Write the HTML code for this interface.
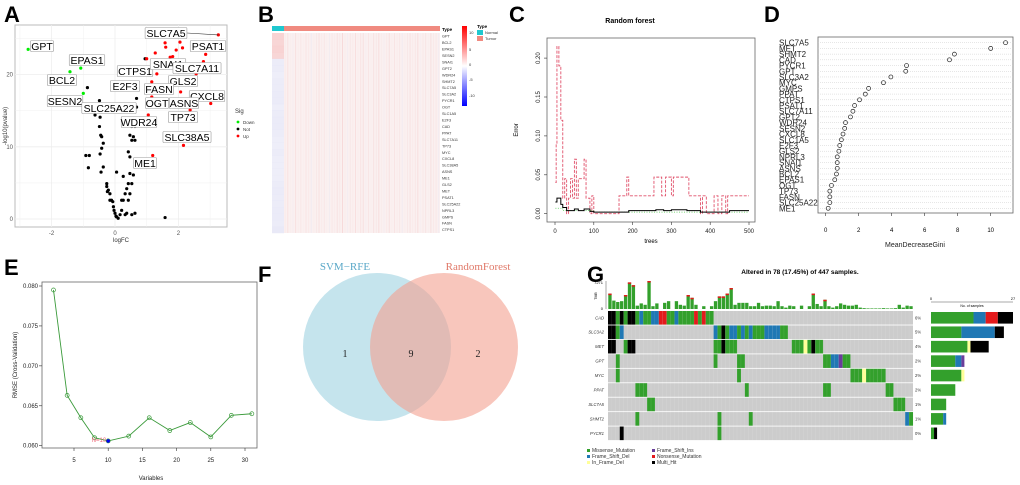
<!DOCTYPE html>
<html><head><meta charset="utf-8"><style>
html,body{margin:0;padding:0;background:#fff;width:1020px;height:485px;overflow:hidden}
svg{display:block;font-family:"Liberation Sans",sans-serif}
</style></head><body>
<svg id="fig" width="1020" height="485" viewBox="0 0 1020 485" xmlns="http://www.w3.org/2000/svg">
<g font-weight="bold" font-size="22" fill="#000">
<text x="4" y="22">A</text>
<text x="258" y="22">B</text>
<text x="509" y="22">C</text>
<text x="764" y="22">D</text>
<text x="4" y="275">E</text>
<text x="258" y="282">F</text>
<text x="587" y="282">G</text>
</g>
<g id="pA"></g><g id="pB"></g><g id="pC"></g><g id="pD"></g><g id="pE"></g><g id="pF"></g><g id="pG"></g>
</svg>
<script>
const NS='http://www.w3.org/2000/svg';
function mk(parent,tag,attrs,txt){const e=document.createElementNS(NS,tag);for(const k in attrs)e.setAttribute(k,attrs[k]);if(txt!==undefined)e.textContent=txt;parent.appendChild(e);return e;}

// ===== Panel A data =====
const aUpX=[3.26,2.86,1.58,2.05,2.13,1.6,1.93,1.27,1.0,1.74,1.82,1.21,1.32,2.56,2.79,1.93,1.76,1.16,1.1,2.07,1.16,3.02,2.37,1.05,2.16,1.19];
const aUpY=[25.5,22.8,24.4,24.5,23.7,23.8,23.4,23.0,22.2,22.4,22.5,21.5,20.1,20.1,21.8,20.6,19.6,19.0,18.4,17.6,16.9,16.0,15.1,14.4,10.2,8.8];
const aDownX=[-2.74,-1.08,-1.42,-1.0];
const aDownY=[23.5,20.9,20.4,17.4];
const aNotX=[.95,-.87,-.49,.68,-.63,-.47,.68,-.49,-.45,-.42,-.37,-.42,-.47,-.92,-.81,-.84,-.37,-.44,-.26,-.21,-.16,-.11,-.05,0,.05,.1,.16,.21,.26,.32,.37,.42,.47,.53,.58,.47,.42,.53,.58,.63,.47,.63,.53,.05,.26,.63,.32,1.58,-.16,-.07,-.03,.03,-.26,-.24,.21,.37,.53,.42,.47];
const aNotY=[22.2,18.2,16.4,16.7,14.4,14.1,15.5,12.8,11.6,11.4,10.5,9.8,9.0,8.8,8.8,7.1,7.2,6.5,4.9,4.0,3.5,2.6,1.7,.8,.3,.1,.6,1.2,2.6,3.5,4.2,4.9,6.3,4.9,6.1,8.6,9.3,10.9,11.4,10.9,11.6,12.8,12.8,6.5,5.9,.8,.6,.2,2.6,2.4,1.2,.4,4.5,3.8,2.6,.8,.6,2.6,3.5];
const aLabels=['SLC7A5','PSAT1','GPT','EPAS1','CTPS1','SNAI1','SLC7A11','BCL2','GLS2','E2F3','FASN','CXCL8','SESN2','OGT','ASNS','SLC25A22','TP73','WDR24','SLC38A5','ME1'];
const aXTicks=[-2,0,2];
const aYTicks=[0,10,20];
(function(){
 const g=document.getElementById('pA');
 const X=v=>115+31.7*v, Y=v=>219-7.22*v;
 const bg=mk(g,'rect',{x:15,y:25,width:212,height:202,fill:'#fff',stroke:'#bbb','stroke-width':1});
 
 
 for(let v=-3;v<=3;v+=1){mk(g,'line',{x1:X(v),x2:X(v),y1:25,y2:227,stroke:'#eee','stroke-width':v%2===0?0.8:0.4});}
 for(let v=0;v<=25;v+=5){mk(g,'line',{x1:15,x2:227,y1:Y(v),y2:Y(v),stroke:'#eee','stroke-width':v%10===0?0.8:0.4});}
 aXTicks.forEach(v=>{const t=mk(g,'text',{x:X(v),y:235,'font-size':6,fill:'#555','text-anchor':'middle'},String(v));});
 aYTicks.forEach(v=>{const t=mk(g,'text',{x:13,y:Y(v)+2,'font-size':6,fill:'#555','text-anchor':'end'},String(v));});
 const xl=mk(g,'text',{x:121,y:242,'font-size':6,fill:'#333','text-anchor':'middle'},'logFC');
 const yl=mk(g,'text',{x:0,y:0,'font-size':6,fill:'#333','text-anchor':'middle',transform:'translate(7,126) rotate(-90)'},'-log10(pvalue)');
 aNotX.forEach((v,i)=>{const c=mk(g,'circle',{cx:X(v),cy:Y(aNotY[i]),r:1.6,fill:'#000'});});
 aUpX.forEach((v,i)=>{const c=mk(g,'circle',{cx:X(v),cy:Y(aUpY[i]),r:1.6,fill:'#ff0000'});});
 aDownX.forEach((v,i)=>{const c=mk(g,'circle',{cx:X(v),cy:Y(aDownY[i]),r:1.6,fill:'#00ee00'});});
 mk(g,'line',{x1:187,y1:33,x2:X(3.26),y2:Y(25.5),stroke:'#333','stroke-width':0.6});
 const pos=[[166,33],[208,46],[42,46],[87,60],[135,71],[168,64],[197,68],[62,80],[183,81],[125,86],[159,89],[207,96],[65,101],[157,103],[184,103],[109,108],[183,117],[139,122],[187,137],[145,163]];
 aLabels.forEach((s,i)=>{const [cx,cy]=pos[i];const w=s.length*6.3+4;
  const r=mk(g,'rect',{x:cx-w/2,y:cy-5.5,width:w,height:11,fill:'#fff',stroke:'#999','stroke-width':0.6,rx:1});
  const t=mk(g,'text',{x:cx,y:cy+3.8,'font-size':10.5,fill:'#000','text-anchor':'middle'},s);});
 const lt=mk(g,'text',{x:235,y:113,'font-size':6,fill:'#333'},'Sig');
 [['Down','#00ee00'],['Not','#000'],['Up','#f00']].forEach((d,i)=>{mk(g,'circle',{cx:238,cy:122+i*7,r:1.4,fill:d[1]});const t=mk(g,'text',{x:243,y:124+i*7,'font-size':4.5,fill:'#333'},d[0]);});
})();

// ===== Panel B data =====
const bGenes=['GPT','BCL2','EPAS1','SESN2','SNAI1','GPT2','WDR24','SHMT2','SLC7A5','SLC3A2','PYCR1','OGT','SLC1A5','E2F3','CAD','PPAT','SLC7A11','TP73','MYC','CXCL8','SLC38A5','ASNS','ME1','GLS2','MET','PSAT1','SLC25A22','NPRL3','GMPS','FASN','CTPS1'];
const bNormal=[0.3,0.25,0.3,0.25,-0.1,-0.1,-0.05,-0.1,-0.1,-0.15,-0.15,-0.05,-0.1,-0.15,-0.15,-0.1,-0.05,-0.05,-0.1,-0.05,-0.05,-0.05,-0.05,-0.1,-0.15,-0.1,-0.1,-0.15,-0.15,-0.1,-0.2];
const bColNoise=[0.2,0.5,0.1,0.3,0.6,0.15,0.35,0.05,0.45,0.25,0.7,0.1,0.3,0.55,0.2,0.4,0.05,0.6,0.35,0.15,0.5,0.25,0.8,0.1,0.45,0.3,0.2,0.65,0.1,0.4,0.55,0.2,0.35,0.05,0.5,0.3,0.7,0.15,0.4,0.25,0.6,0.1,0.45,0.2,0.35,0.55,0.1,0.3,0.5,0.2,0.4,0.65,0.15,0.3,0.45,0.1,0.6,0.25,0.35,0.5];
(function(){
 const g=document.getElementById('pB');
 const x0=272,x1=440,y0=33,y1=233,nx=284;
 const rh=(y1-y0)/bGenes.length;
 mk(g,'rect',{x:x0,y:26,width:nx-x0,height:5,fill:'#1fc8cf'});
 mk(g,'rect',{x:nx,y:26,width:x1-nx,height:5,fill:'#f08a80'});
 const base=mk(g,'rect',{x:nx,y:y0,width:x1-nx,height:y1-y0,fill:'#faf0f0'});
 const cw=(x1-nx)/bColNoise.length;
 bColNoise.forEach((v,i)=>{const r=mk(g,'rect',{x:nx+i*cw+cw*0.3,y:y0,width:cw*0.35,height:y1-y0,fill:i%7===3?'#dcdcf4':'#f2b0b0',opacity:v*0.45});});
 bGenes.forEach((s,i)=>{const v=bNormal[i];
  const c=mk(g,'rect',{x:x0,y:y0+i*rh,width:nx-x0,height:rh+0.2,fill:v>0?'#f6c8c8':'#e0e0f4',opacity:0.5+Math.abs(v)});
  const t=mk(g,'text',{x:442,y:y0+i*rh+rh/2+1.4,'font-size':3.8,fill:'#333'},s);});
 mk(g,'text',{x:442,y:31,'font-size':4.5,'font-weight':'bold',fill:'#000'},'Type');
 const defs=mk(g,'defs',{});const lg=mk(defs,'linearGradient',{id:'bgrad',x1:0,y1:0,x2:0,y2:1});
 mk(lg,'stop',{offset:'0','stop-color':'#ff0000'});mk(lg,'stop',{offset:'0.5','stop-color':'#ffffff'});mk(lg,'stop',{offset:'1','stop-color':'#0000ff'});
 const cb=mk(g,'rect',{x:462,y:26,width:5,height:80,fill:'url(#bgrad)'});
 [['10',34],['5',51],['0',66],['-5',81],['-10',97]].forEach(d=>mk(g,'text',{x:469,y:d[1],'font-size':4,fill:'#333'},d[0]));
 mk(g,'text',{x:477,y:28,'font-size':4.5,'font-weight':'bold',fill:'#000'},'Type');
 mk(g,'rect',{x:477,y:30,width:6,height:5,fill:'#1fc8cf'});mk(g,'rect',{x:477,y:36,width:6,height:5,fill:'#f08a80'});
 mk(g,'text',{x:485,y:34,'font-size':4,fill:'#333'},'Normal');mk(g,'text',{x:485,y:40,'font-size':4,fill:'#333'},'Tumor');
})();

// ===== Panel C data =====
const cRedT=[1,3,5,10,15,20,25,30,35,40,45,50,55,60,70,75,80,90,95,100,160,165,185,190,250,255,275,285,300,305,345,370,375,380,390,410,420,430,440,445,500];
const cRedE=[0.04,0.09,0.215,0.19,0.12,0.02,0.045,0.0,0.02,0.045,0.02,0.07,0.02,0.045,0.045,0.07,0.02,0.0,0.023,0.0,0.0,0.023,0.047,0.023,0.023,0.047,0.023,0.047,0.023,0.047,0.023,0.023,0.0,0.023,0.0,0.023,0.0,0.023,0.0,0.023,0.023];
const cBlkT=[1,5,10,15,20,30,50,60,75,90,100,180,190,250,260,280,300,340,370,375,440,450,500];
const cBlkE=[0.015,0.02,0.02,0.012,0.008,0.004,0.006,0.004,0.006,0.003,0.002,0.002,0.004,0.004,0.005,0.004,0.005,0.004,0.004,0.002,0.002,0.004,0.004];
const cGrnT=[1,20,100,500];
const cGrnE=[0.007,0.004,0.002,0.002];
const cXTicks=[0,100,200,300,400,500];
const cYTicks=[0,0.05,0.10,0.15,0.20];
(function(){
 const g=document.getElementById('pC');
 const X=t=>555+t*0.388, Y=e=>213.7-e*778;
 const box=mk(g,'rect',{x:547,y:38,width:208,height:184,fill:'none',stroke:'#666','stroke-width':0.8});
 const tt=mk(g,'text',{x:630,y:23,'font-size':7,'font-weight':'bold','text-anchor':'middle'},'Random forest');
 cXTicks.forEach(v=>{mk(g,'line',{x1:X(v),x2:X(v),y1:222,y2:225,stroke:'#333','stroke-width':0.6});const t=mk(g,'text',{x:X(v),y:233,'font-size':6,'text-anchor':'middle',fill:'#222'},String(v));});
 cYTicks.forEach(v=>{mk(g,'line',{x1:544,x2:547,y1:Y(v),y2:Y(v),stroke:'#333','stroke-width':0.6});const t=mk(g,'text',{x:0,y:0,'font-size':6,'text-anchor':'middle',fill:'#222',transform:`translate(540,${Y(v)}) rotate(-90)`},v.toFixed(2));});
 const xl=mk(g,'text',{x:651,y:243,'font-size':6,'text-anchor':'middle'},'trees');
 const yl=mk(g,'text',{x:0,y:0,'font-size':6,'text-anchor':'middle',transform:'translate(518,130) rotate(-90)'},'Error');
 function step(T,E){let d=`M${X(T[0])},${Y(E[0])}`;for(let i=1;i<T.length;i++){d+=`H${X(T[i])}V${Y(E[i])}`;}return d;}
 const gr=mk(g,'path',{d:step(cGrnT,cGrnE),fill:'none',stroke:'#55cc55','stroke-width':0.8,'stroke-dasharray':'1,1.5'});
 const rd=mk(g,'path',{d:step(cRedT,cRedE),fill:'none',stroke:'#e0506a','stroke-width':0.9,'stroke-dasharray':'3,1.5'});
 const bk=mk(g,'path',{d:step(cBlkT,cBlkE),fill:'none',stroke:'#000','stroke-width':1});
})();

// ===== Panel D data =====
const dGenes=['SLC7A5','MET','SHMT2','CAD','PYCR1','GPT','SLC3A2','MYC','GMPS','PPAT','CTPS1','PSAT1','SLC7A11','GPT2','WDR24','SESN2','CXCL8','SLC1A5','E2F3','GLS2','NPRL3','SNAI1','ASNS','BCL2','EPAS1','OGT','TP73','FASN','SLC25A22','ME1'];
const dGini=[10.9,10.0,7.8,7.5,4.9,4.85,3.95,3.5,2.6,2.4,2.05,1.75,1.65,1.5,1.2,1.15,1.05,0.95,0.85,0.8,0.7,0.7,0.7,0.65,0.55,0.35,0.25,0.25,0.25,0.15];
const dXTicks=[0,2,4,6,8,10];
(function(){
 const g=document.getElementById('pD');
 const X=v=>825.7+16.5*v, Y=i=>42.7+i*5.71;
 const box=mk(g,'rect',{x:818,y:37,width:195,height:176,fill:'none',stroke:'#666','stroke-width':0.8});
 dGenes.forEach((s,i)=>{mk(g,'line',{x1:818,x2:1013,y1:Y(i),y2:Y(i),stroke:'#ccc','stroke-width':0.5,'stroke-dasharray':'1,1'});
  const t=mk(g,'text',{x:779,y:Y(i)+3,'font-size':8,fill:'#222'},s);
  const c=mk(g,'circle',{cx:X(dGini[i]),cy:Y(i),r:2,fill:'none',stroke:'#222','stroke-width':0.7});});
 dXTicks.forEach(v=>{mk(g,'line',{x1:X(v),x2:X(v),y1:213,y2:216,stroke:'#333','stroke-width':0.6});const t=mk(g,'text',{x:X(v),y:232,'font-size':6,'text-anchor':'middle'},String(v));});
 const xl=mk(g,'text',{x:915,y:247,'font-size':7,'text-anchor':'middle',fill:'#222'},'MeanDecreaseGini');
})();

// ===== Panel E data =====
const eVars=[2,4,6,8,10,13,16,19,22,25,28,31];
const eRmse=[0.0795,0.0663,0.0635,0.0610,0.0606,0.0612,0.0635,0.0619,0.0629,0.0611,0.0638,0.0640];
const eXTicks=[5,10,15,20,25,30];
const eYTicks=[0.060,0.065,0.070,0.075,0.080];
const eBest=10;
(function(){
 const g=document.getElementById('pE');
 const X=v=>39.8+6.84*v, Y=v=>445.7-(v-0.060)/0.020*159.7;
 const box=mk(g,'rect',{x:42,y:282,width:215,height:166,fill:'none',stroke:'#666','stroke-width':0.8});
 eXTicks.forEach(v=>{mk(g,'line',{x1:X(v),x2:X(v),y1:448,y2:451,stroke:'#333','stroke-width':0.6});const t=mk(g,'text',{x:X(v),y:462,'font-size':6,'text-anchor':'middle',fill:'#222'},String(v));});
 eYTicks.forEach(v=>{mk(g,'line',{x1:39,x2:42,y1:Y(v),y2:Y(v),stroke:'#333','stroke-width':0.6});const t=mk(g,'text',{x:38,y:Y(v)+2,'font-size':6,'text-anchor':'end',fill:'#222'},v.toFixed(3));});
 const xl=mk(g,'text',{x:151,y:480,'font-size':6,'text-anchor':'middle',fill:'#222'},'Variables');
 const yl=mk(g,'text',{x:0,y:0,'font-size':6,'text-anchor':'middle',fill:'#222',transform:'translate(17,365) rotate(-90)'},'RMSE (Cross-Validation)');
 const ln=mk(g,'polyline',{points:eVars.map((v,i)=>X(v)+','+Y(eRmse[i])).join(' '),fill:'none',stroke:'#3a9a3a','stroke-width':0.9});
 eVars.forEach((v,i)=>{const c=mk(g,'circle',{cx:X(v),cy:Y(eRmse[i]),r:2,fill:'none',stroke:'#3a9a3a','stroke-width':0.7});});
 const bi=eVars.indexOf(eBest);
 const b=mk(g,'circle',{cx:X(eBest),cy:Y(eRmse[bi]),r:1.8,fill:'#0000ee'});
 const bt=mk(g,'text',{x:X(eBest)-2,y:Y(eRmse[bi])+1,'font-size':6,fill:'#ee6677','text-anchor':'end'},'N='+eBest);
})();

// ===== Panel F data =====
const fCounts=[1,9,2];
(function(){
 const g=document.getElementById('pF');
 const l=mk(g,'circle',{cx:377,cy:347,r:74,fill:'#add8e6',opacity:0.7});
 const r=mk(g,'circle',{cx:444,cy:347,r:74,fill:'#f4a090',opacity:0.6});
 const f='font-family:"Liberation Serif",serif';
 const t1=mk(g,'text',{x:345,y:270,'font-size':11,fill:'#5aa8c8','text-anchor':'middle',style:f},'SVM\u2212RFE');
 const t2=mk(g,'text',{x:478,y:270,'font-size':11,fill:'#e07868','text-anchor':'middle',style:f},'RandomForest');
 [345,411,478].forEach((x,i)=>{const t=mk(g,'text',{x:x,y:357,'font-size':10,fill:'#222','text-anchor':'middle',style:f},String(fCounts[i]));});
})();

// ===== Panel G data =====
const gGenes=['CAD','SLC3A2','MET','GPT','MYC','PPAT','SLC7A5','SHMT2','PYCR1'];
const gPct=['6%','5%','4%','2%','2%','2%','1%','1%','0%'];
const gMut=[
 '0-1:K,2:G,3:K,4:G,5-6:K,7:G,8:B,9-10:G,11-12:B,13-14:R,15-16:G,17:B,18-21:G,22:R,23:G,24:R,25-26:G',
 '0-1:K,2:G,3:B,27:B,28:G,29:K,30:G,31-32:B,33:G,34:B,35:G,36:B,37-39:G,40-43:B,44-45:G',
 '0-1:K,4:G,5-6:K,27-28:G,29:K,30-32:G,47-49:G,50:Y,51:G,52:K,53-54:G',
 '2:G,27:G,33-34:G,55-56:G,57-58:B,59:P,60-61:G',
 '2:G,33:G,62-64:G,65:Y,66-70:G',
 '7-9:G,35:G,55-56:G,71-72:G',
 '10-11:G,73-75:G',
 '7:G,28:G,36:G,76:B,77:G',
 '3:K,28:G'];
const gTmb=[.55,.3,.25,.28,.5,.95,.85,.12,.2,.15,1,.1,.2,0,.22,.28,0,.28,.15,.12,.5,.4,.15,0,.1,0,.1,.28,.45,.45,.55,.75,.15,.22,.22,.22,.1,.1,.22,.1,.12,.12,.1,.28,.1,.05,.12,.1,0,.12,0,.1,.55,.18,.1,.33,.1,.05,.1,.2,.15,.12,.12,.15,.05,.03,.02,.02,.02,.02,.03,.02,.02,.03,.15,.05,.12,.1];
const gBarG=[14,10,12,8,10,8,5,4,1];
const gBarB=[4,11,0,2,0,0,0,1,0];
const gBarR=[4,0,0,0,0,0,0,0,0];
const gBarY=[0,0,1,0,1,0,0,0,0];
const gBarP=[0,0,0,1,0,0,0,0,0];
const gBarK=[5,3,6,0,0,0,0,0,1];
(function(){
 const g=document.getElementById('pG');
 const C={G:'#33a02c',B:'#1f78b4',R:'#e31a1c',K:'#000000',Y:'#ffff99',P:'#6a3d9a'};
 const cx=i=>608+i*3.91, cw=3.91, ry=r=>311+r*14.44, rh=13.6;
 const tt=mk(g,'text',{x:800,y:274,'font-size':6.5,'font-weight':'bold','text-anchor':'middle'},'Altered in 78 (17.45%) of 447 samples.');
 mk(g,'line',{x1:606,x2:606,y1:281,y2:309,stroke:'#555','stroke-width':0.5});
 mk(g,'text',{x:603,y:284,'font-size':4,'text-anchor':'end'},'7271');mk(g,'text',{x:603,y:310,'font-size':4,'text-anchor':'end'},'0');
 mk(g,'text',{x:0,y:0,'font-size':3.5,'text-anchor':'middle',transform:'translate(597,296) rotate(-90)'},'TMB');
 gTmb.forEach((v,i)=>{if(v<=0)return;const h=v*28;
  const b=mk(g,'rect',{x:cx(i)+0.3,y:309-h,width:cw-0.6,height:h,fill:'#33a02c'});
  if(v>0.3){mk(g,'rect',{x:cx(i)+0.3,y:309-h,width:cw-0.6,height:1.5,fill:'#e31a1c'});}});
 gGenes.forEach((s,r)=>{
  const bg=mk(g,'rect',{x:608,y:ry(r),width:78*cw,height:rh,fill:'#cccccc'});
  gMut[r].split(',').forEach(seg=>{const [rng,ty]=seg.split(':');const [a,b2]=rng.split('-').map(Number);const e=b2===undefined?a:b2;
   for(let i=a;i<=e;i++){const m=mk(g,'rect',{x:cx(i),y:ry(r),width:cw+0.05,height:rh,fill:C[ty]});}});
  const t=mk(g,'text',{x:604,y:ry(r)+rh/2+1.5,'font-size':4.2,'font-style':'italic','text-anchor':'end',fill:'#333'},s);
  const p=mk(g,'text',{x:915,y:ry(r)+rh/2+1.5,'font-size':4.2,fill:'#333'},gPct[r]);
  let x=931;const sc=82/27;
  [[gBarG,'G'],[gBarB,'B'],[gBarR,'R'],[gBarY,'Y'],[gBarP,'P'],[gBarK,'K']].forEach(([arr,ty])=>{const w=arr[r]*sc;if(w>0){const b=mk(g,'rect',{x:x,y:ry(r)+1,width:w,height:rh-2,fill:C[ty]});x+=w;}});
 });
 for(let i=1;i<78;i++)mk(g,'line',{x1:cx(i),x2:cx(i),y1:311,y2:441,stroke:'#fff','stroke-width':0.15,opacity:0.5});
 mk(g,'line',{x1:931,x2:1013,y1:302,y2:302,stroke:'#555','stroke-width':0.5});
 mk(g,'text',{x:931,y:300,'font-size':4,'text-anchor':'middle'},'0');mk(g,'text',{x:1013,y:300,'font-size':4,'text-anchor':'middle'},'27');
 mk(g,'text',{x:972,y:307,'font-size':3.5,'text-anchor':'middle'},'No. of samples');
 [['Missense_Mutation','G',587,452],['Frame_Shift_Del','B',587,458],['In_Frame_Del','Y',587,464],['Frame_Shift_Ins','P',652,452],['Nonsense_Mutation','R',652,458],['Multi_Hit','K',652,464]].forEach(d=>{
  mk(g,'rect',{x:d[2],y:d[3]-3,width:3,height:3,fill:C[d[1]]});
  const t=mk(g,'text',{x:d[2]+5,y:d[3],'font-size':5,fill:'#333'},d[0]);});
})();
</script>
</body></html>
